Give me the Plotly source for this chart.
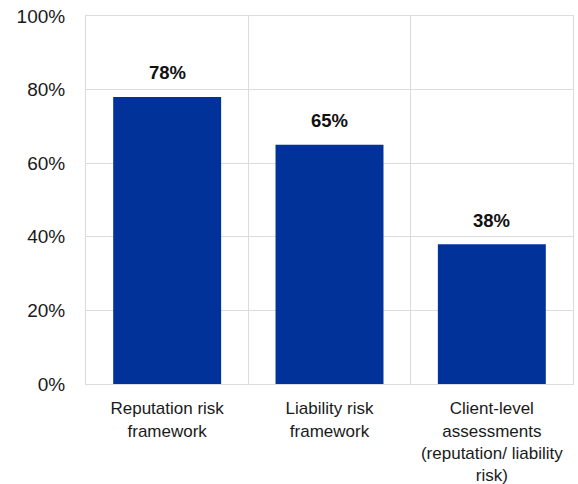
import plotly.graph_objects as go

categories = [
    "Reputation risk<br>framework",
    "Liability risk<br>framework",
    "Client-level<br>assessments<br>(reputation/ liability<br>risk)",
]
shares = [78, 65, 38]
y_ticks = [0, 20, 40, 60, 80, 100]
y_tick_labels = [f"{v}%" for v in y_ticks]

fig = go.Figure(
    go.Bar(
        x=categories,
        y=shares,
        width=0.665,
        marker=dict(color="#003299", line=dict(width=0)),
        hoverinfo="skip",
    )
)

# value labels above each bar
for cat, val in zip(categories, shares):
    fig.add_annotation(
        x=cat,
        y=val,
        text=f"<b>{val}%</b>",
        showarrow=False,
        yanchor="middle",
        yshift=24,
        font=dict(size=18.5, color="#111111", family="Liberation Sans"),
    )

grid = "#dcdcdc"
fig.update_layout(
    width=578,
    height=484,
    margin=dict(l=86, r=5, t=16, b=100),
    paper_bgcolor="white",
    plot_bgcolor="white",
    font=dict(family="Liberation Sans", size=17, color="#1a1a1a"),
    showlegend=False,
    xaxis=dict(
        tickson="boundaries",
        showgrid=True,
        gridcolor=grid,
        gridwidth=1,
        ticks="",
        showline=True,
        linecolor=grid,
        mirror=True,
        tickfont=dict(size=17),
        ticklabelstandoff=9,
        automargin=False,
    ),
    yaxis=dict(
        range=[0, 100],
        tickvals=y_ticks,
        ticktext=y_tick_labels,
        showgrid=True,
        gridcolor=grid,
        gridwidth=1,
        zeroline=False,
        showline=True,
        linecolor=grid,
        mirror=True,
        ticks="",
        tickfont=dict(size=19),
        ticklabelstandoff=16,
        automargin=False,
    ),
)

fig.write_html("out.html")
